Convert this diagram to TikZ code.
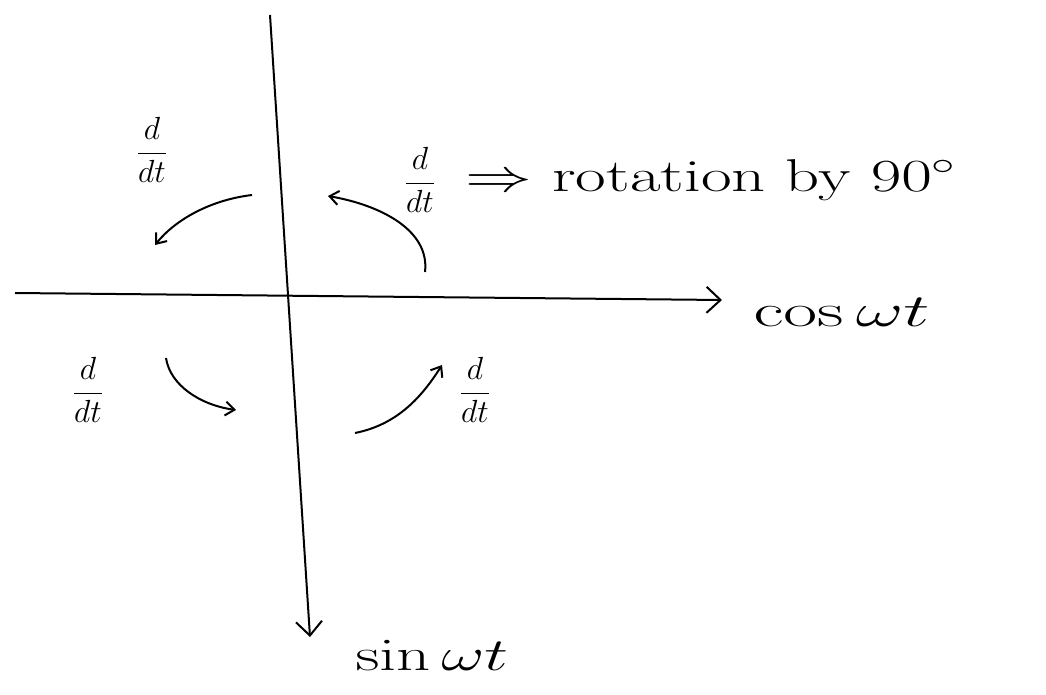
\RequirePackage{fix-cm}
\documentclass[tikz,border=0pt]{standalone}
\usetikzlibrary{arrows.meta}
\begin{document}
\begin{tikzpicture}[x=1pt,y=-1pt,
  ax/.style={line width=2pt,-{Straight Barb[length=14pt,width=26pt,line width=2pt]}},
  rot/.style={line width=2pt,-{Straight Barb[length=9pt,width=14pt,line width=2pt]}},
  lab/.style={font=\fontsize{46}{52}\selectfont},
  frac/.style={font=\fontsize{32}{36}\selectfont}]
\useasboundingbox (0,0) rectangle (1046,695);
\fill[white] (0,0) rectangle (1046,695);
\coordinate (vtop) at (270,15);
\coordinate (vbot) at (310,637);
\coordinate (hl) at (15,293);
\coordinate (hr) at (722,300);
\draw[ax] (vtop) -- (vbot);
\draw[ax] (hl) -- (hr);
\node[lab,anchor=west] (cos) at (750,312) {\scalebox{1.6}[1]{$\cos\omega t$}};
\node[lab,anchor=west] (sin) at (352,655) {\scalebox{1.45}[1]{$\sin\omega t$}};
\node[frac] (d1) at (420,180) {$\displaystyle\frac{d}{dt}$};
\node[lab,anchor=west] (rt) at (462,180) {\scalebox{1.45}[1]{$\Rightarrow$ rotation by $90^\circ$}};
\node[frac] (d2) at (152,150) {$\displaystyle\frac{d}{dt}$};
\node[frac] (d3) at (88,390) {$\displaystyle\frac{d}{dt}$};
\node[frac] (d4) at (475,390) {$\displaystyle\frac{d}{dt}$};
\coordinate (a1s) at (425,272); \coordinate (a1e) at (328,196);
\coordinate (a2s) at (252,195); \coordinate (a2e) at (155,245);
\coordinate (a3s) at (166,358); \coordinate (a3e) at (236,410);
\coordinate (a4s) at (355,433); \coordinate (a4e) at (442,365);
\draw[rot] (a1s) .. controls (430,230) and (380,205) .. (a1e);
\draw[rot] (a2s) .. controls (210,200) and (175,220) .. (a2e);
\draw[rot] (a3s) .. controls (170,385) and (200,405) .. (a3e);
\draw[rot] (a4s) .. controls (395,425) and (420,400) .. (a4e);
\end{tikzpicture}
\end{document}
